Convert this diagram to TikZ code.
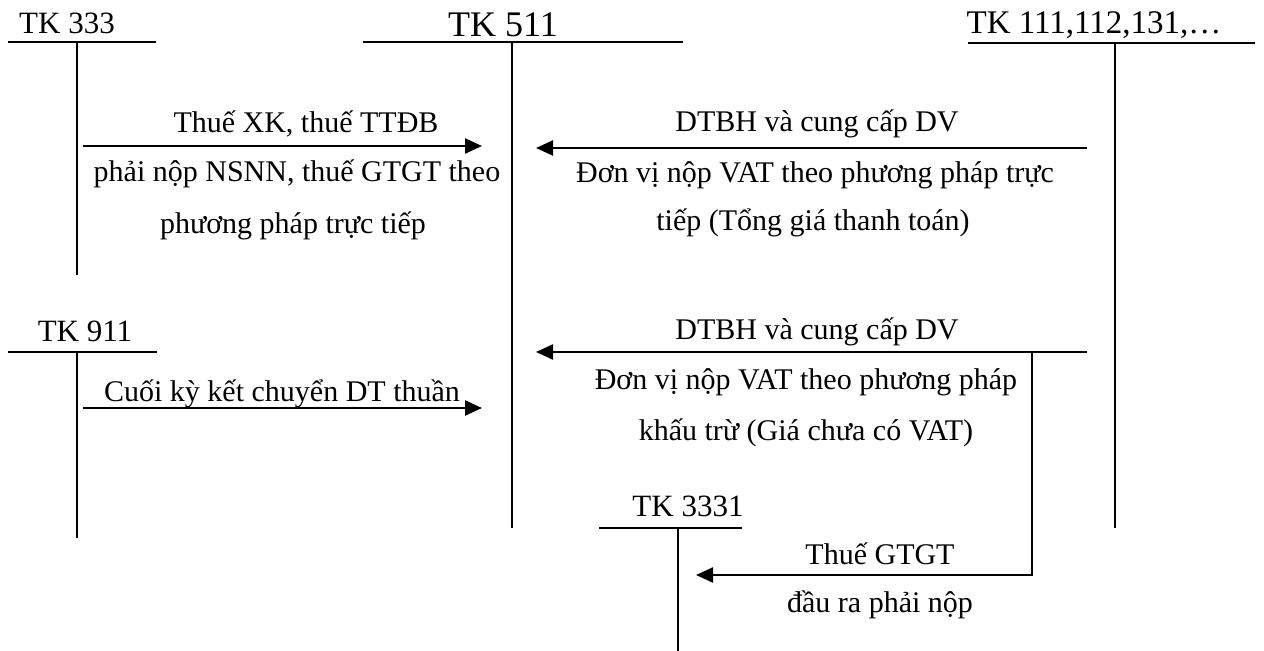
\documentclass[tikz,border=0pt]{standalone}
\usepackage{fontspec}
\setmainfont{Liberation Serif}
\usetikzlibrary{arrows.meta}
\begin{document}
\begin{tikzpicture}[x=0.5pt,y=-0.5pt,
  acct/.style={line width=0.95pt},
  flow/.style={line width=1.2pt,-{Triangle[length=8.5pt,width=7.5pt]}},
  lbl/.style={inner sep=0pt,anchor=base,font=\fontsize{15}{18}\selectfont},
  title/.style={inner sep=0pt,anchor=base,font=\fontsize{15.5}{18}\selectfont},
  widetitle/.style={inner sep=0pt,anchor=base,font=\fontsize{16.5}{19}\selectfont},
  bigtitle/.style={inner sep=0pt,anchor=base,font=\fontsize{18}{21}\selectfont},
]
\useasboundingbox (0,0) rectangle (1264,651);

% T-accounts
\node[title] (t333) at (67,34) {TK 333};
\draw[acct] (8,42) -- (156,42);
\draw[acct] (77,42) -- (77,275);

\node[bigtitle] (t511) at (503,37) {TK 511};
\draw[acct] (363,42) -- (683,42);
\draw[acct] (512,42) -- (512,528);

\node[widetitle] (t111) at (1094,34) {TK 111,112,131,\dots};
\draw[acct] (968,43) -- (1255,43);
\draw[acct] (1115,43) -- (1115,528);

\node[title] (t911) at (85,342) {TK 911};
\draw[acct] (8,352) -- (157,352);
\draw[acct] (77,352) -- (77,538);

\node[title] (t3331) at (688,517) {TK 3331};
\draw[acct] (599,528) -- (742,528);
\draw[acct] (678,528) -- (678,651);

% connector ends on the accounts
\coordinate (a1s) at (83,146);   \coordinate (a1e) at (482,146);
\coordinate (a2s) at (1087,148); \coordinate (a2e) at (536,148);
\coordinate (a3s) at (83,408);   \coordinate (a3e) at (482,408);
\coordinate (a4s) at (1087,352); \coordinate (a4e) at (536,352);
\coordinate (a5s) at (1032,352); \coordinate (a5c) at (1032,575);
\coordinate (a5e) at (696,575);

% flows
\draw[flow] (a1s) -- (a1e);
\draw[flow] (a2s) -- (a2e);
\draw[flow] (a3s) -- (a3e);
\draw[flow] (a4s) -- (a4e);
\draw[flow] (a5s) -- (a5c) -- (a5e);

% labels
\node[lbl] (l1a) at (306,133) {Thuế XK, thuế TTĐB};
\node[lbl] (l1b) at (297,182) {phải nộp NSNN, thuế GTGT theo};
\node[lbl] (l1c) at (293,234) {phương pháp trực tiếp};

\node[lbl] (l2a) at (817,132) {DTBH và cung cấp DV};
\node[lbl] (l2b) at (815,183) {Đơn vị nộp VAT theo phương pháp trực};
\node[lbl] (l2c) at (813,231) {tiếp (Tổng giá thanh toán)};

\node[lbl] (l3) at (282,402) {Cuối kỳ kết chuyển DT thuần};

\node[lbl] (l4a) at (817,340) {DTBH và cung cấp DV};
\node[lbl] (l4b) at (806,390) {Đơn vị nộp VAT theo phương pháp};
\node[lbl] (l4c) at (806,441) {khấu trừ (Giá chưa có VAT)};

\node[lbl] (l5a) at (880,565) {Thuế GTGT};
\node[lbl] (l5b) at (880,613) {đầu ra phải nộp};
\end{tikzpicture}
\end{document}
